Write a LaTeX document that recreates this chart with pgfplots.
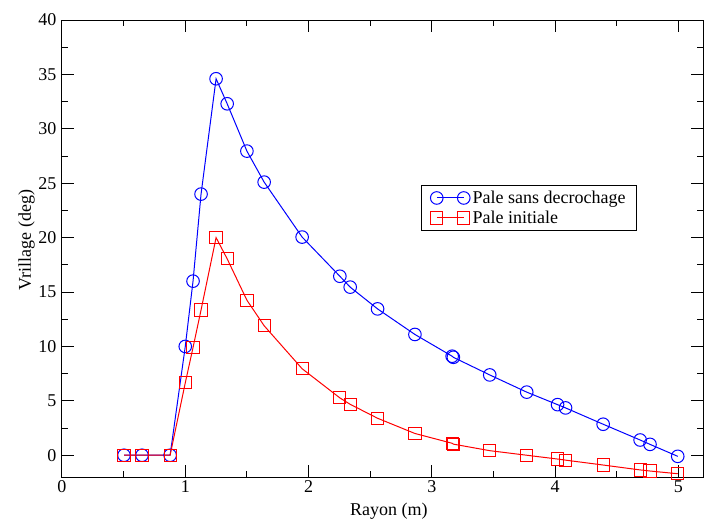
\documentclass[border=0pt]{standalone}
\usepackage{pgfplots}
\pgfplotsset{compat=1.18}
\usepackage{fontspec}
\setmainfont{Liberation Serif}
\definecolor{gblue}{RGB}{0,0,255}
\definecolor{gred}{RGB}{255,0,0}
\begin{document}
\begin{tikzpicture}
\useasboundingbox (-62bp,-43bp) rectangle (642bp,477bp);
\begin{axis}[
  at={(0,0)}, anchor=south west,
  scale only axis,
  width=641bp, height=457bp,
  xmin=0, xmax=5.2, ymin=-2, ymax=40,
  xtick={0,1,2,3,4,5}, ytick={0,5,...,40},
  minor x tick num=1, minor y tick num=1,
  tick align=inside,
  major tick length=12bp, minor tick length=6bp,
  xtick pos=both, ytick pos=both,
  xticklabel pos=lower, yticklabel pos=left,
  axis line style={line width=1bp},
  every tick/.style={black, line width=1bp},
  /pgf/number format/assume math mode=true,
  tick label style={font=\fontsize{18bp}{20bp}\selectfont},
  yticklabel style={xshift=-2bp},
  label style={font=\fontsize{18bp}{20bp}\selectfont},
  xlabel={Rayon (m)},
  ylabel={Vrillage (deg)},
  xlabel style={at={(axis description cs:0.51,0)}, anchor=base, yshift=-38bp},
  ylabel style={at={(axis description cs:-0.0484,0.519)}, anchor=base},
  legend style={at={(axis description cs:0.560,0.639)}, anchor=north west,
    draw=black, line width=1bp, font=\fontsize{18bp}{20bp}\selectfont,
    inner xsep=9bp, inner ysep=4bp, row sep=3bp,
    nodes={inner xsep=2.5bp, inner ysep=1.5bp}},
  legend cell align=left,
  legend image code/.code={\draw[mark repeat=2,mark phase=1,#1] plot coordinates {(0bp,0bp) (13.5bp,0bp) (27bp,0bp)};},
]
\addplot[gblue, line width=1bp, mark=o, mark size=6.3bp, mark options={line width=1bp}] coordinates {
(0.503,0) (0.649,0) (0.877,0) (1.0,10.0) (1.063,16.0) (1.128,24.0) (1.25,34.6)
(1.34,32.3) (1.50,27.95) (1.64,25.1) (1.948,20.05) (2.254,16.45) (2.338,15.45)
(2.56,13.45) (2.863,11.1) (3.165,9.1) (3.175,9.0) (3.47,7.38) (3.77,5.8)
(4.02,4.65) (4.085,4.35) (4.39,2.85) (4.69,1.4) (4.77,1.0) (4.995,-0.1)
};
\addlegendentry{Pale sans decrochage}
\addplot[gred, line width=1bp, mark=square, mark size=6.1bp, mark options={line width=1bp}] coordinates {
(0.503,0) (0.649,0) (0.877,0) (1.0,6.65) (1.063,9.9) (1.128,13.35) (1.25,20.0)
(1.34,18.05) (1.50,14.25) (1.64,11.9) (1.948,7.95) (2.254,5.27) (2.338,4.68)
(2.56,3.4) (2.863,2.0) (3.165,1.1) (3.175,1.02) (3.47,0.42) (3.77,0.0)
(4.02,-0.35) (4.085,-0.45) (4.39,-0.9) (4.69,-1.35) (4.77,-1.45) (4.995,-1.7)
};
\addlegendentry{Pale initiale}
\end{axis}
\end{tikzpicture}
\end{document}
